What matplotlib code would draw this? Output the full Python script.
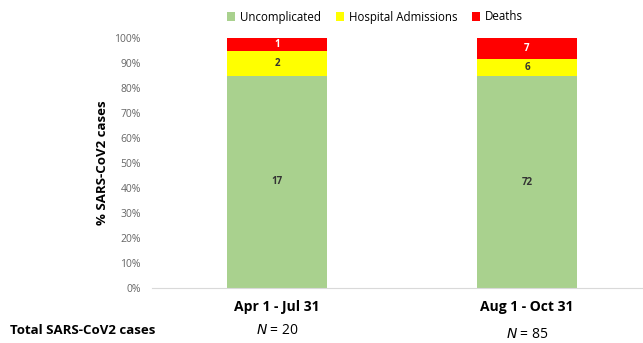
import numpy as np
import matplotlib.pyplot as plt

periods = ['Apr 1 - Jul 31', 'Aug 1 - Oct 31']
series = ['Uncomplicated', 'Hospital Admissions', 'Deaths']
uncomplicated = [17, 72]
hospital = [2, 6]
deaths = [1, 7]
colors = ['#A9D18E', '#FFFF00', '#FF0000']
label_colors = ['#333333', '#333333', 'white']

plt.rcParams['font.family'] = ['Open Sans', 'DejaVu Sans']

counts = np.array([uncomplicated, hospital, deaths], dtype=float)
totals = counts.sum(axis=0)
pct = counts / totals * 100

fig = plt.figure(figsize=(6.43, 3.43), dpi=100)
ax = fig.add_axes([152 / 643, 1 - 288 / 343, 500 / 643, 250 / 343])

x = np.arange(len(periods))
bottom = np.zeros(len(periods))
for i, name in enumerate(series):
    bars = ax.bar(x, pct[i], 0.40, bottom=bottom, color=colors[i], label=name)
    for j, b in enumerate(bars):
        ax.text(b.get_x() + b.get_width() / 2, bottom[j] + pct[i][j] / 2,
                '%d' % counts[i][j], ha='center', va='center',
                fontsize=7, fontweight='bold', color=label_colors[i])
    bottom += pct[i]

ax.set_xlim(-0.5, 1.5)
ax.set_ylim(0, 100)
ax.set_yticks(range(0, 101, 10))
ax.set_yticklabels(['%d%%' % v for v in range(0, 101, 10)], color='#666666', fontsize=7.5)
ax.tick_params(axis='y', length=0, pad=8)
ax.tick_params(axis='x', length=0)
ax.set_xticks([])
for s in ['top', 'right', 'left']:
    ax.spines[s].set_visible(False)
ax.spines['bottom'].set_color('#D9D9D9')
ax.set_ylabel('% SARS-CoV2 cases', fontsize=9.5, fontweight='bold', labelpad=4)

for j, p in enumerate(periods):
    ax.text(x[j], -7.8, p, ha='center', va='center', fontsize=10,
            fontweight='bold', clip_on=False)
ax.text(x[0], -16.8, '$N$ = %d' % totals[0], ha='center', va='center', fontsize=10, clip_on=False)
ax.text(x[1], -18.4, '$N$ = %d' % totals[1], ha='center', va='center', fontsize=10, clip_on=False)
fig.text(10 / 643, 1 - 330 / 343, 'Total SARS-CoV2 cases', ha='left', va='center',
         fontsize=9.5, fontweight='bold')

ax.legend(loc='center', bbox_to_anchor=(375 / 643, 1 - 17 / 343), bbox_transform=fig.transFigure,
          ncol=3, frameon=False, fontsize=8.3, handlelength=0.7, handleheight=0.7,
          handletextpad=0.4, columnspacing=1.3)

plt.savefig('out.png', dpi=100)
